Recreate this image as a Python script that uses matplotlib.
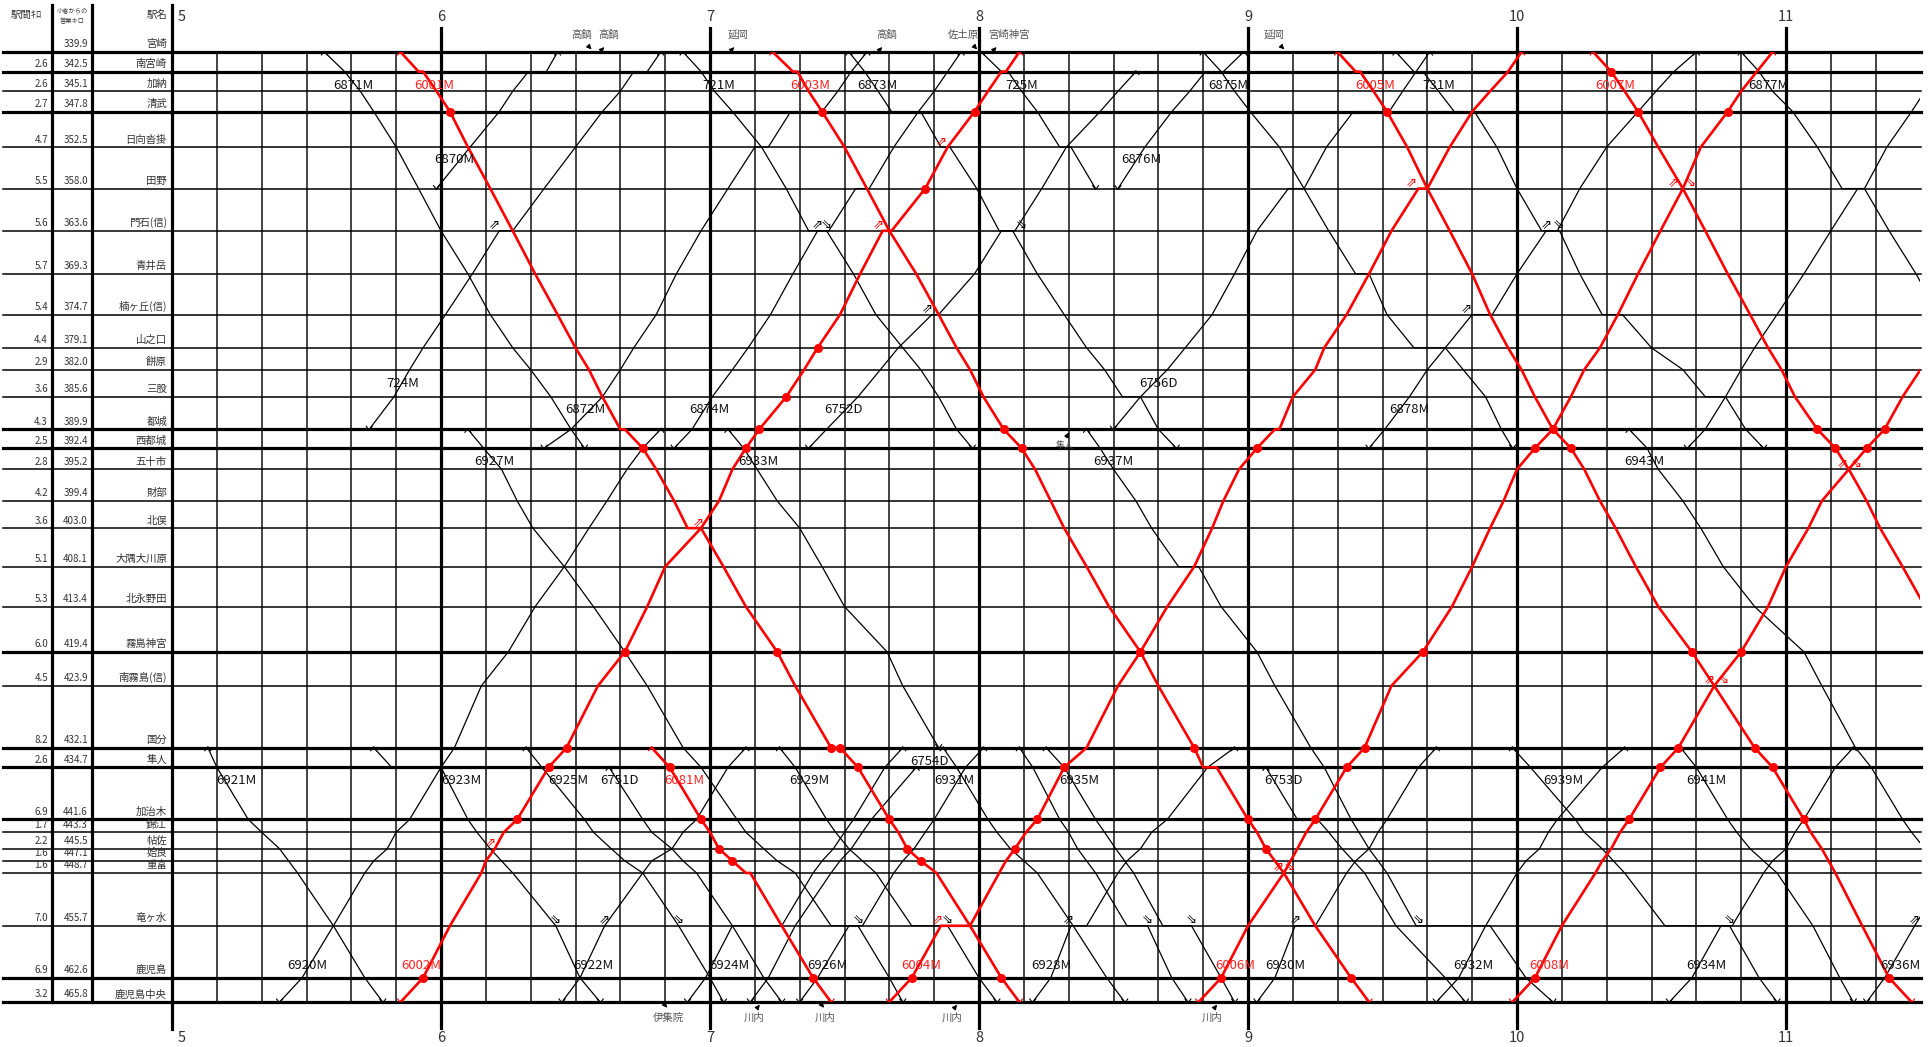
import matplotlib.pyplot as plt

plt.rcParams['font.family'] = ['Noto Sans CJK JP', 'DejaVu Sans']

# ---- stations, top (Miyazaki) to bottom (Kagoshima-Chuo)
station_labels = ['宮崎', '南宮崎', '加納', '清武', '日向沓掛', '田野', '門石(信)', '青井岳',
                  '楠ヶ丘(信)', '山之口', '餅原', '三股', '都城', '西都城', '五十市', '財部',
                  '北俣', '大隅大川原', '北永野田', '霧島神宮', '南霧島(信)', '国分', '隼人',
                  '加治木', '錦江', '帖佐', '姶良', '重富', '竜ヶ水', '鹿児島', '鹿児島中央']
station_keys = [s.replace('(信)', '') for s in station_labels]
cum_km = [339.9, 342.5, 345.1, 347.8, 352.5, 358.0, 363.6, 369.3, 374.7, 379.1, 382.0,
          385.6, 389.9, 392.4, 395.2, 399.4, 403.0, 408.1, 413.4, 419.4, 423.9, 432.1,
          434.7, 441.6, 443.3, 445.5, 447.1, 448.7, 455.7, 462.6, 465.8]
sect_km = ['', '2.6', '2.6', '2.7', '4.7', '5.5', '5.6', '5.7', '5.4', '4.4', '2.9', '3.6',
           '4.3', '2.5', '2.8', '4.2', '3.6', '5.1', '5.3', '6.0', '4.5', '8.2', '2.6', '6.9',
           '1.7', '2.2', '1.6', '1.6', '7.0', '6.9', '3.2']
bold_stations = ['宮崎', '南宮崎', '清武', '都城', '西都城', '霧島神宮', '国分', '隼人',
                 '加治木', '鹿児島', '鹿児島中央']
hours = [5, 6, 7, 8, 9, 10, 11]

# ---- limited express trains (red): (station, time) in running order
red_trains = {
    '6001M': [('宮崎', '5:51'), ('南宮崎', '5:55'), ('南宮崎', '5:56'), ('加納', '5:59'), ('清武', '6:02'),
              ('日向沓掛', '6:06'), ('田野', '6:11'), ('門石', '6:16'), ('青井岳', '6:21'), ('楠ヶ丘', '6:26'),
              ('山之口', '6:30'), ('餅原', '6:33'), ('三股', '6:36'), ('都城', '6:40'), ('都城', '6:41'),
              ('西都城', '6:45'), ('五十市', '6:48'), ('財部', '6:52'), ('北俣', '6:55'), ('北俣', '6:58'),
              ('大隅大川原', '7:03'), ('北永野田', '7:08'), ('霧島神宮', '7:15'), ('南霧島', '7:19'),
              ('国分', '7:27'), ('国分', '7:29'), ('隼人', '7:33'), ('加治木', '7:40'), ('錦江', '7:42'),
              ('帖佐', '7:44'), ('姶良', '7:47'), ('重富', '7:50.5'), ('竜ヶ水', '7:58'), ('鹿児島', '8:05'),
              ('鹿児島中央', '8:09')],
    '6003M': [('宮崎', '7:14'), ('南宮崎', '7:18.5'), ('南宮崎', '7:19.5'), ('加納', '7:22'), ('清武', '7:25'),
              ('日向沓掛', '7:30'), ('田野', '7:35'), ('門石', '7:40'), ('青井岳', '7:46'), ('楠ヶ丘', '7:51'),
              ('山之口', '7:55'), ('餅原', '7:58'), ('三股', '8:01'), ('都城', '8:05.5'), ('西都城', '8:09.5'),
              ('五十市', '8:12.5'), ('財部', '8:16'), ('北俣', '8:19'), ('大隅大川原', '8:24'),
              ('北永野田', '8:29'), ('霧島神宮', '8:36'), ('南霧島', '8:40'), ('国分', '8:48'),
              ('隼人', '8:50'), ('隼人', '8:53'), ('加治木', '9:00'), ('錦江', '9:02'), ('帖佐', '9:04'),
              ('姶良', '9:06'), ('重富', '9:08'), ('竜ヶ水', '9:15'), ('鹿児島', '9:23'), ('鹿児島中央', '9:27')],
    '6005M': [('宮崎', '9:20'), ('南宮崎', '9:24'), ('南宮崎', '9:25'), ('加納', '9:28'), ('清武', '9:31'),
              ('日向沓掛', '9:35.5'), ('田野', '9:40'), ('門石', '9:45'), ('青井岳', '9:50'), ('楠ヶ丘', '9:54'),
              ('山之口', '9:58'), ('餅原', '10:01'), ('三股', '10:04'), ('都城', '10:08'), ('西都城', '10:12'),
              ('五十市', '10:15'), ('財部', '10:18.5'), ('北俣', '10:22'), ('大隅大川原', '10:26.5'),
              ('北永野田', '10:31.5'), ('霧島神宮', '10:39'), ('南霧島', '10:44'), ('国分', '10:53'),
              ('隼人', '10:57'), ('加治木', '11:04'), ('錦江', '11:05.5'), ('帖佐', '11:08'), ('姶良', '11:09.5'),
              ('重富', '11:11'), ('竜ヶ水', '11:17'), ('鹿児島', '11:23'), ('鹿児島中央', '11:28')],
    '6007M': [('宮崎', '10:17'), ('南宮崎', '10:21'), ('加納', '10:24'), ('清武', '10:27'),
              ('日向沓掛', '10:31.5'), ('田野', '10:37'), ('門石', '10:42'), ('青井岳', '10:47'),
              ('楠ヶ丘', '10:52'), ('山之口', '10:56'), ('餅原', '10:59'), ('三股', '11:02'), ('都城', '11:07'),
              ('西都城', '11:11'), ('五十市', '11:14'), ('財部', '11:18'), ('北俣', '11:21'),
              ('大隅大川原', '11:26'), ('北永野田', '11:31')],
    '6081M': [('国分', '6:47'), ('隼人', '6:51'), ('加治木', '6:58'), ('錦江', '7:00'), ('帖佐', '7:02'),
              ('姶良', '7:05'), ('重富', '7:08'), ('重富', '7:09'), ('竜ヶ水', '7:16'), ('鹿児島', '7:23'),
              ('鹿児島中央', '7:27')],
    '6002M': [('鹿児島中央', '5:51'), ('鹿児島', '5:56'), ('竜ヶ水', '6:02'), ('重富', '6:09'), ('姶良', '6:10'),
              ('帖佐', '6:12'), ('錦江', '6:14'), ('加治木', '6:17'), ('隼人', '6:24'), ('国分', '6:28'),
              ('南霧島', '6:35'), ('霧島神宮', '6:41'), ('北永野田', '6:46'), ('大隅大川原', '6:50'),
              ('北俣', '6:58'), ('財部', '7:02'), ('五十市', '7:05'), ('西都城', '7:08'), ('都城', '7:11'),
              ('三股', '7:17'), ('餅原', '7:21'), ('山之口', '7:24'), ('楠ヶ丘', '7:29'), ('青井岳', '7:33.5'),
              ('門石', '7:38.5'), ('門石', '7:40.5'), ('田野', '7:48'), ('日向沓掛', '7:53'), ('清武', '7:59'),
              ('加納', '8:02'), ('南宮崎', '8:05'), ('南宮崎', '8:06'), ('宮崎', '8:09')],
    '6004M': [('鹿児島中央', '7:40'), ('鹿児島', '7:45'), ('竜ヶ水', '7:51.5'), ('竜ヶ水', '7:58'),
              ('重富', '8:04.5'), ('姶良', '8:06'), ('帖佐', '8:08'), ('錦江', '8:10.5'), ('加治木', '8:13'),
              ('隼人', '8:19'), ('国分', '8:24'), ('南霧島', '8:31'), ('霧島神宮', '8:36'), ('北永野田', '8:42'),
              ('大隅大川原', '8:48'), ('北俣', '8:52'), ('財部', '8:54.5'), ('五十市', '8:58'), ('西都城', '9:02'),
              ('都城', '9:06'), ('都城', '9:07'), ('三股', '9:10'), ('餅原', '9:15'), ('山之口', '9:17'),
              ('楠ヶ丘', '9:22'), ('青井岳', '9:27'), ('門石', '9:32'), ('田野', '9:38'), ('田野', '9:40'),
              ('日向沓掛', '9:45'), ('清武', '9:50'), ('加納', '9:54'), ('南宮崎', '9:58'), ('宮崎', '10:01')],
    '6006M': [('鹿児島中央', '8:49'), ('鹿児島', '8:54'), ('竜ヶ水', '9:00'), ('重富', '9:08'), ('姶良', '9:09.5'),
              ('帖佐', '9:11'), ('錦江', '9:13'), ('加治木', '9:15'), ('隼人', '9:22'), ('国分', '9:26'),
              ('南霧島', '9:32'), ('霧島神宮', '9:39'), ('北永野田', '9:45.5'), ('大隅大川原', '9:50'),
              ('北俣', '9:54'), ('財部', '9:57'), ('五十市', '10:00'), ('西都城', '10:04'), ('都城', '10:08'),
              ('三股', '10:12'), ('餅原', '10:15'), ('山之口', '10:18.5'), ('楠ヶ丘', '10:22.5'),
              ('青井岳', '10:27'), ('門石', '10:32'), ('田野', '10:37'), ('日向沓掛', '10:41'), ('清武', '10:47'),
              ('加納', '10:50'), ('南宮崎', '10:53.5'), ('宮崎', '10:57')],
    '6008M': [('鹿児島中央', '9:59'), ('鹿児島', '10:04'), ('竜ヶ水', '10:10'), ('重富', '10:17.5'),
              ('姶良', '10:19'), ('帖佐', '10:21'), ('錦江', '10:23'), ('加治木', '10:25'), ('隼人', '10:32'),
              ('国分', '10:36'), ('南霧島', '10:44'), ('霧島神宮', '10:50'), ('北永野田', '10:56'),
              ('大隅大川原', '11:00'), ('北俣', '11:05'), ('財部', '11:08'), ('五十市', '11:14'),
              ('西都城', '11:18'), ('都城', '11:22'), ('三股', '11:26'), ('餅原', '11:30'), ('山之口', '11:33')],
}
red_stops = {
    '6001M': ['清武', '西都城', '霧島神宮', '国分', '隼人', '加治木', '帖佐', '姶良', '鹿児島'],
    '6003M': ['清武', '都城', '西都城', '霧島神宮', '国分', '加治木', '帖佐', '鹿児島'],
    '6005M': ['清武', '西都城', '霧島神宮', '国分', '隼人', '加治木', '鹿児島'],
    '6007M': ['南宮崎', '清武', '都城', '西都城'],
    '6081M': ['隼人', '加治木', '帖佐', '姶良', '鹿児島'],
    '6002M': ['鹿児島', '加治木', '隼人', '国分', '霧島神宮', '西都城', '都城', '三股', '山之口', '田野', '清武'],
    '6004M': ['鹿児島', '帖佐', '加治木', '隼人', '霧島神宮', '西都城'],
    '6006M': ['鹿児島', '加治木', '隼人', '国分', '霧島神宮', '西都城', '都城', '清武'],
    '6008M': ['鹿児島', '加治木', '隼人', '国分', '霧島神宮', '西都城', '都城'],
}

# ---- local trains (black)
black_trains = {
    # Miyazaki - Miyakonojo
    '6871M': [('宮崎', '5:34'), ('南宮崎', '5:38.5'), ('加納', '5:42'), ('清武', '5:45'), ('日向沓掛', '5:50'),
              ('田野', '5:55'), ('門石', '6:00'), ('青井岳', '6:06'), ('楠ヶ丘', '6:11'), ('山之口', '6:16'),
              ('餅原', '6:20'), ('三股', '6:24.5'), ('都城', '6:29'), ('西都城', '6:32')],
    '6870M': [('田野', '5:59'), ('日向沓掛', '6:06.5'), ('清武', '6:13'), ('加納', '6:16'), ('南宮崎', '6:19.5'),
              ('南宮崎', '6:23.5'), ('宮崎', '6:26')],
    '724M': [('都城', '5:44'), ('三股', '5:49.5'), ('餅原', '5:53'), ('山之口', '5:56'), ('楠ヶ丘', '6:01'),
             ('青井岳', '6:07'), ('門石', '6:13'), ('門石', '6:16'), ('田野', '6:23'), ('日向沓掛', '6:30'),
             ('清武', '6:36'), ('加納', '6:40'), ('南宮崎', '6:43'), ('南宮崎', '6:46'), ('宮崎', '6:49')],
    '721M': [('宮崎', '6:54'), ('南宮崎', '6:58'), ('加納', '7:01'), ('清武', '7:05'), ('日向沓掛', '7:11.5'),
             ('田野', '7:17'), ('門石', '7:22'), ('門石', '7:26'), ('青井岳', '7:32'), ('楠ヶ丘', '7:37'),
             ('山之口', '7:43'), ('餅原', '7:47'), ('三股', '7:51'), ('都城', '7:55'), ('西都城', '7:58.5')],
    '6872M': [('西都城', '6:23'), ('都城', '6:29'), ('三股', '6:36'), ('餅原', '6:40'), ('山之口', '6:43'),
              ('楠ヶ丘', '6:48'), ('青井岳', '6:52.5'), ('門石', '6:58'), ('田野', '7:04'), ('日向沓掛', '7:10'),
              ('日向沓掛', '7:13'), ('清武', '7:18'), ('清武', '7:25'), ('加納', '7:28.5'), ('南宮崎', '7:31.5'),
              ('宮崎', '7:35')],
    '6874M': [('西都城', '6:52'), ('都城', '6:56'), ('三股', '7:00.5'), ('餅原', '7:05'), ('山之口', '7:08.5'),
              ('楠ヶ丘', '7:13.5'), ('青井岳', '7:18.5'), ('門石', '7:24'), ('門石', '7:26.5'), ('田野', '7:32.5'),
              ('田野', '7:35.5'), ('日向沓掛', '7:41'), ('清武', '7:46.5'), ('加納', '7:50'), ('南宮崎', '7:53'),
              ('宮崎', '7:56')],
    '6873M': [('宮崎', '7:31'), ('南宮崎', '7:34.5'), ('加納', '7:37.5'), ('清武', '7:40.5'), ('清武', '7:47'),
              ('日向沓掛', '7:51.5'), ('日向沓掛', '7:53.5'), ('田野', '7:59.5'), ('門石', '8:04.5'),
              ('門石', '8:07.5'), ('青井岳', '8:13'), ('楠ヶ丘', '8:19'), ('山之口', '8:24'), ('餅原', '8:28'),
              ('三股', '8:32'), ('三股', '8:36'), ('都城', '8:40'), ('西都城', '8:44')],
    '6752D': [('西都城', '7:22'), ('都城', '7:26'), ('三股', '7:33'), ('餅原', '7:38'), ('山之口', '7:42'),
              ('楠ヶ丘', '7:49.5'), ('楠ヶ丘', '7:51'), ('青井岳', '7:59'), ('門石', '8:05'), ('門石', '8:08'),
              ('田野', '8:14'), ('日向沓掛', '8:19.5'), ('清武', '8:27'), ('加納', '8:31'), ('南宮崎', '8:35')],
    '725M': [('宮崎', '8:00.5'), ('南宮崎', '8:05'), ('南宮崎', '8:06.5'), ('加納', '8:09.5'), ('清武', '8:13'),
             ('日向沓掛', '8:18'), ('日向沓掛', '8:20.5'), ('田野', '8:26')],
    '6876M': [('田野', '8:31'), ('日向沓掛', '8:37'), ('清武', '8:43'), ('加納', '8:47'), ('南宮崎', '8:50.5'),
              ('南宮崎', '8:54.5'), ('宮崎', '8:59')],
    '6875M': [('宮崎', '8:50'), ('南宮崎', '8:54'), ('加納', '8:57'), ('清武', '9:00.5'), ('日向沓掛', '9:07'),
              ('田野', '9:12.5'), ('門石', '9:18'), ('青井岳', '9:24'), ('青井岳', '9:27'), ('楠ヶ丘', '9:31'),
              ('山之口', '9:37'), ('山之口', '9:44'), ('餅原', '9:48'), ('三股', '9:53'), ('都城', '9:56.5'),
              ('西都城', '9:59')],
    '6756D': [('都城', '8:30'), ('三股', '8:36'), ('餅原', '8:42'), ('山之口', '8:46'), ('楠ヶ丘', '8:52'),
              ('青井岳', '8:57'), ('門石', '9:02'), ('田野', '9:09'), ('田野', '9:12.5'), ('日向沓掛', '9:17.5'),
              ('清武', '9:23.5'), ('清武', '9:31.5'), ('加納', '9:34.5'), ('南宮崎', '9:37.5'), ('宮崎', '9:40.5')],
    '731M': [('宮崎', '9:33'), ('南宮崎', '9:37'), ('南宮崎', '9:39'), ('加納', '9:42.5'), ('清武', '9:46'),
             ('清武', '9:50.5'), ('日向沓掛', '9:55.5'), ('田野', '10:00'), ('門石', '10:05.5'), ('門石', '10:09.5'),
             ('青井岳', '10:14'), ('楠ヶ丘', '10:19'), ('楠ヶ丘', '10:23.5'), ('山之口', '10:30'), ('餅原', '10:37'),
             ('三股', '10:42'), ('三股', '10:46.5'), ('都城', '10:51'), ('西都城', '10:55')],
    '6878M': [('西都城', '9:27'), ('都城', '9:30.5'), ('三股', '9:36'), ('餅原', '9:40'), ('山之口', '9:44'),
              ('楠ヶ丘', '9:50'), ('楠ヶ丘', '9:54.5'), ('青井岳', '10:00'), ('門石', '10:06.5'), ('門石', '10:09'),
              ('田野', '10:14'), ('日向沓掛', '10:20'), ('清武', '10:27'), ('加納', '10:31'), ('南宮崎', '10:35'),
              ('宮崎', '10:40')],
    '6877M': [('宮崎', '10:50'), ('南宮崎', '10:54'), ('加納', '10:57'), ('清武', '11:01.5'), ('日向沓掛', '11:07'),
              ('田野', '11:12.5'), ('田野', '11:17.5'), ('門石', '11:23'), ('青井岳', '11:29'), ('楠ヶ丘', '11:34')],
    'up_1038': [('西都城', '10:38'), ('都城', '10:42'), ('三股', '10:46.5'), ('餅原', '10:50'), ('山之口', '10:53'),
                ('楠ヶ丘', '10:58'), ('青井岳', '11:04'), ('門石', '11:10'), ('田野', '11:16'), ('田野', '11:17.5'),
                ('日向沓掛', '11:22.5'), ('清武', '11:28'), ('加納', '11:31')],
    # Miyakonojo - Kokubu / Kagoshima-Chuo
    '6927M': [('都城', '6:06'), ('西都城', '6:09.5'), ('五十市', '6:13.5'), ('財部', '6:17'), ('北俣', '6:20.5'),
              ('大隅大川原', '6:27.5'), ('北永野田', '6:34'), ('霧島神宮', '6:41'), ('南霧島', '6:46'), ('国分', '6:54'),
              ('隼人', '6:58'), ('加治木', '7:06'), ('錦江', '7:08'), ('帖佐', '7:12'), ('姶良', '7:15'),
              ('重富', '7:19'), ('竜ヶ水', '7:27'), ('竜ヶ水', '7:33'), ('鹿児島', '7:40'), ('鹿児島中央', '7:43')],
    '6920M': [('鹿児島中央', '5:24'), ('鹿児島', '5:29'), ('竜ヶ水', '5:36'), ('重富', '5:43'), ('姶良', '5:45'),
              ('帖佐', '5:48'), ('錦江', '5:50'), ('加治木', '5:53'), ('隼人', '6:00'), ('国分', '6:03'),
              ('南霧島', '6:09'), ('霧島神宮', '6:15'), ('北永野田', '6:21'), ('大隅大川原', '6:27.5'),
              ('北俣', '6:33'), ('財部', '6:37'), ('五十市', '6:41.5'), ('西都城', '6:45'), ('都城', '6:49')],
    '6933M': [('都城', '7:04'), ('西都城', '7:07.5'), ('五十市', '7:10.5'), ('財部', '7:15'), ('北俣', '7:20'),
              ('大隅大川原', '7:25'), ('北永野田', '7:30'), ('霧島神宮', '7:39.5'), ('南霧島', '7:43'), ('国分', '7:51')],
    '6937M': [('都城', '8:24'), ('西都城', '8:27'), ('五十市', '8:30'), ('財部', '8:35'), ('北俣', '8:38.5'),
              ('大隅大川原', '8:44.5'), ('大隅大川原', '8:49'), ('北永野田', '8:54'), ('霧島神宮', '9:02'),
              ('南霧島', '9:06'), ('国分', '9:14'), ('隼人', '9:17'), ('加治木', '9:23'), ('帖佐', '9:27'),
              ('姶良', '9:29'), ('重富', '9:31'), ('竜ヶ水', '9:37.5'), ('竜ヶ水', '9:54'), ('鹿児島', '10:02'),
              ('鹿児島中央', '10:08')],
    '6943M': [('都城', '10:25'), ('西都城', '10:29'), ('五十市', '10:31.5'), ('財部', '10:37'), ('北俣', '10:41'),
              ('大隅大川原', '10:46'), ('北永野田', '10:53'), ('霧島神宮', '11:04'), ('南霧島', '11:08'),
              ('国分', '11:15.5'), ('隼人', '11:19'), ('加治木', '11:26'), ('錦江', '11:28'), ('帖佐', '11:31')],
    # Kokubu / Hayato - Kagoshima-Chuo
    '6921M': [('国分', '5:08'), ('隼人', '5:10'), ('加治木', '5:17'), ('錦江', '5:20'), ('帖佐', '5:24'),
              ('姶良', '5:26'), ('重富', '5:28'), ('竜ヶ水', '5:36'), ('鹿児島', '5:43'), ('鹿児島中央', '5:47')],
    '6923M': [('国分', '5:45'), ('隼人', '5:49'), ('隼人', '6:00'), ('加治木', '6:06'), ('錦江', '6:08'),
              ('帖佐', '6:11'), ('姶良', '6:13.5'), ('重富', '6:16'), ('竜ヶ水', '6:25.6'), ('鹿児島', '6:31'),
              ('鹿児島中央', '6:35.5')],
    '6925M': [('国分', '6:19'), ('隼人', '6:22.5'), ('加治木', '6:32'), ('錦江', '6:34'), ('帖佐', '6:38'),
              ('姶良', '6:41'), ('重富', '6:45'), ('竜ヶ水', '6:53'), ('鹿児島', '7:00'), ('鹿児島中央', '7:03')],
    '6751D': [('隼人', '6:37.5'), ('加治木', '6:45'), ('錦江', '6:47'), ('帖佐', '6:51.5'), ('姶良', '6:54'),
              ('重富', '6:57'), ('竜ヶ水', '7:05'), ('鹿児島', '7:12'), ('鹿児島中央', '7:16')],
    '6929M': [('国分', '7:15.5'), ('隼人', '7:19'), ('加治木', '7:26'), ('錦江', '7:28'), ('帖佐', '7:31'),
              ('姶良', '7:34'), ('重富', '7:37'), ('竜ヶ水', '7:45'), ('竜ヶ水', '7:53'), ('鹿児島', '8:00'),
              ('鹿児島中央', '8:04')],
    '6931M': [('国分', '7:52'), ('隼人', '7:55'), ('加治木', '8:02'), ('錦江', '8:04'), ('帖佐', '8:07'),
              ('姶良', '8:10'), ('重富', '8:13'), ('竜ヶ水', '8:21'), ('鹿児島', '8:28.5'), ('鹿児島中央', '8:32.5')],
    'dn_0809': [('国分', '8:09'), ('隼人', '8:12'), ('加治木', '8:18'), ('錦江', '8:20'), ('帖佐', '8:22'),
                ('姶良', '8:24'), ('重富', '8:26'), ('竜ヶ水', '8:33'), ('竜ヶ水', '8:37.6'), ('鹿児島', '8:43'),
                ('鹿児島中央', '8:46.6')],
    '6935M': [('国分', '8:15'), ('隼人', '8:19'), ('加治木', '8:26'), ('錦江', '8:28'), ('帖佐', '8:30.5'),
              ('姶良', '8:32.5'), ('重富', '8:34.5'), ('竜ヶ水', '8:41'), ('竜ヶ水', '8:47.4'), ('鹿児島', '8:54'),
              ('鹿児島中央', '8:57')],
    '6753D': [('隼人', '9:04'), ('加治木', '9:11'), ('加治木', '9:15.5'), ('錦江', '9:18'), ('帖佐', '9:21'),
              ('姶良', '9:23.5'), ('重富', '9:26'), ('竜ヶ水', '9:33'), ('鹿児島', '9:44'), ('鹿児島中央', '9:48.5')],
    '6939M': [('国分', '9:59'), ('隼人', '10:03'), ('加治木', '10:13'), ('錦江', '10:15'), ('帖佐', '10:19'),
              ('姶良', '10:21.5'), ('重富', '10:24'), ('竜ヶ水', '10:33'), ('竜ヶ水', '10:47.4'), ('鹿児島', '10:54'),
              ('鹿児島中央', '10:58')],
    '6941M': [('国分', '10:36.5'), ('隼人', '10:40'), ('加治木', '10:47'), ('錦江', '10:49'), ('帖佐', '10:52'),
              ('姶良', '10:55'), ('重富', '10:58'), ('竜ヶ水', '11:06'), ('鹿児島', '11:12'), ('鹿児島中央', '11:15')],
    '6922M': [('鹿児島中央', '6:27'), ('鹿児島', '6:31'), ('竜ヶ水', '6:36.5'), ('重富', '6:45'), ('姶良', '6:47'),
              ('帖佐', '6:51.5'), ('錦江', '6:54'), ('加治木', '6:57'), ('隼人', '7:04'), ('国分', '7:08')],
    '6924M': [('鹿児島中央', '6:55'), ('鹿児島', '6:59'), ('竜ヶ水', '7:05'), ('竜ヶ水', '7:16'), ('重富', '7:23'),
              ('姶良', '7:25'), ('帖佐', '7:27.5'), ('錦江', '7:30'), ('加治木', '7:32'), ('隼人', '7:39'),
              ('国分', '7:43')],
    '6754D': [('鹿児島中央', '7:09'), ('鹿児島', '7:13'), ('竜ヶ水', '7:19'), ('重富', '7:27'), ('姶良', '7:29'),
              ('帖佐', '7:31.5'), ('錦江', '7:34'), ('加治木', '7:36'), ('隼人', '7:46')],
    '6926M': [('鹿児島中央', '7:20'), ('鹿児島', '7:24'), ('竜ヶ水', '7:31'), ('竜ヶ水', '7:34'), ('重富', '7:41'),
              ('姶良', '7:43'), ('帖佐', '7:45.5'), ('錦江', '7:48'), ('加治木', '7:50'), ('隼人', '7:57'),
              ('国分', '8:01')],
    '6928M': [('鹿児島中央', '8:12'), ('鹿児島', '8:16'), ('竜ヶ水', '8:20.5'), ('竜ヶ水', '8:24'), ('重富', '8:31'),
              ('姶良', '8:33'), ('帖佐', '8:36'), ('錦江', '8:38.5'), ('加治木', '8:42'), ('隼人', '8:51'),
              ('国分', '8:57')],
    '6930M': [('鹿児島中央', '9:02'), ('鹿児島', '9:06'), ('竜ヶ水', '9:10.5'), ('竜ヶ水', '9:15'), ('重富', '9:22'),
              ('姶良', '9:24'), ('帖佐', '9:27'), ('錦江', '9:29'), ('加治木', '9:31'), ('隼人', '9:38'),
              ('国分', '9:42')],
    '6932M': [('鹿児島中央', '9:42'), ('鹿児島', '9:47'), ('竜ヶ水', '9:53'), ('重富', '10:00'), ('姶良', '10:02'),
              ('帖佐', '10:05'), ('錦江', '10:07'), ('加治木', '10:09'), ('隼人', '10:19'), ('国分', '10:24')],
    '6934M': [('鹿児島中央', '10:34'), ('鹿児島', '10:39'), ('竜ヶ水', '10:45.5'), ('竜ヶ水', '10:48'),
              ('重富', '10:55'), ('姶良', '10:57'), ('帖佐', '11:00'), ('錦江', '11:02'), ('加治木', '11:04'),
              ('隼人', '11:11'), ('国分', '11:15')],
    '6936M': [('鹿児島中央', '11:18'), ('鹿児島', '11:22'), ('竜ヶ水', '11:28.7'), ('重富', '11:36')],
}

# ---- train number labels: (km, time)
label_spots = {
    '6871M': (344.3, '5:40.5'), '6001M': (344.3, '5:58.5'), '721M': (344.3, '7:02'),
    '6003M': (344.3, '7:22.3'), '6873M': (344.3, '7:37.3'), '725M': (344.3, '8:09.5'),
    '6875M': (344.3, '8:55.6'), '6005M': (344.3, '9:28.3'), '731M': (344.3, '9:42.5'),
    '6007M': (344.3, '10:22'), '6877M': (344.3, '10:56'),
    '6870M': (354.2, '6:03'), '6876M': (354.2, '8:36.3'),
    '724M': (383.8, '5:51.4'), '6756D': (383.8, '8:40'),
    '6872M': (387.3, '6:32.3'), '6874M': (387.3, '6:59.8'), '6752D': (387.3, '7:29.8'),
    '6878M': (387.3, '9:36'),
    '6927M': (394.2, '6:12'), '6933M': (394.2, '7:10.9'), '6937M': (394.2, '8:30'),
    '6943M': (394.2, '10:28.4'),
    '6754D': (433.9, '7:48.9'),
    '6921M': (436.5, '5:14.3'), '6923M': (436.5, '6:04.6'), '6925M': (436.5, '6:28.3'),
    '6751D': (436.5, '6:39.8'), '6081M': (436.5, '6:54.3'), '6929M': (436.5, '7:22.1'),
    '6931M': (436.5, '7:54.4'), '6935M': (436.5, '8:22.4'), '6753D': (436.5, '9:08'),
    '6939M': (436.5, '10:10.3'), '6941M': (436.5, '10:42.3'),
    '6920M': (461.0, '5:30.2'), '6002M': (461.0, '5:55.5'), '6922M': (461.0, '6:34'),
    '6924M': (461.0, '7:04.3'), '6926M': (461.0, '7:26.2'), '6004M': (461.0, '7:47.2'),
    '6928M': (461.0, '8:16.2'), '6006M': (461.0, '8:57.1'), '6930M': (461.0, '9:08.4'),
    '6932M': (461.0, '9:50.2'), '6008M': (461.0, '10:07.2'), '6934M': (461.0, '10:42.3'),
    '6936M': (461.0, '11:25.6'),
}
red_labels = ['6001M', '6003M', '6005M', '6007M', '6081M', '6002M', '6004M', '6006M', '6008M']

# passing marks at stations: (station, time, direction, colour key)
pass_marks = [('門石', '6:12', 'up', 'k'), ('門石', '7:24', 'up', 'k'), ('門石', '7:26', 'dn', 'k'),
              ('門石', '7:37.5', 'up', 'r'), ('日向沓掛', '7:51.7', 'up', 'r'), ('門石', '8:09.5', 'dn', 'k'),
              ('田野', '9:36.5', 'up', 'r'), ('楠ヶ丘', '7:48.5', 'up', 'k'), ('楠ヶ丘', '9:48.7', 'up', 'k'),
              ('門石', '10:06.5', 'up', 'k'), ('門石', '10:09.3', 'dn', 'k'), ('田野', '10:34.8', 'up', 'r'),
              ('田野', '10:38.7', 'dn', 'r'), ('五十市', '11:12.6', 'up', 'r'), ('五十市', '11:15.7', 'dn', 'r'),
              ('北俣', '6:57.5', 'up', 'r'), ('帖佐', '6:10.9', 'up', 'r'), ('竜ヶ水', '6:25.6', 'dn', 'k'),
              ('竜ヶ水', '6:36.5', 'up', 'k'), ('竜ヶ水', '6:53', 'dn', 'k'), ('竜ヶ水', '7:33', 'dn', 'k'),
              ('竜ヶ水', '7:50.6', 'up', 'r'), ('竜ヶ水', '7:53', 'dn', 'k'), ('竜ヶ水', '8:20', 'up', 'k'),
              ('竜ヶ水', '8:37.6', 'dn', 'k'), ('竜ヶ水', '8:47.4', 'dn', 'k'), ('竜ヶ水', '9:10.5', 'up', 'k'),
              ('重富', '9:06.7', 'up', 'r'), ('重富', '9:09.2', 'dn', 'r'), ('竜ヶ水', '9:38', 'dn', 'k'),
              ('竜ヶ水', '10:47.4', 'dn', 'k'), ('竜ヶ水', '11:28.7', 'up', 'k'), ('南霧島', '10:43', 'up', 'r'),
              ('南霧島', '10:46', 'dn', 'r')]

# through-running notes: (text, time where the arrow meets the line, 'in' = from outside)
top_notes = [('高鍋', '6:34', 'in'), ('高鍋', '6:35.5', 'out'), ('延岡', '7:04.5', 'out'),
             ('高鍋', '7:37.5', 'out'), ('佐土原', '8:00', 'in'), ('宮崎神宮', '8:03', 'out'),
             ('延岡', '9:08.5', 'in')]
bottom_notes = [('伊集院', '6:49.5', 'out'), ('川内', '7:11.5', 'in'), ('川内', '7:24.5', 'out'),
                ('川内', '7:55.5', 'in'), ('川内', '8:53.5', 'in')]
mid_notes = [('隼人', '8:20.3')]


def tm(s):
    h, m = s.split(':')
    return int(h) + float(m) / 60.0


km_of = dict(zip(station_keys, cum_km))

W, H = 1931, 1047
fig = plt.figure(figsize=(W / 100, H / 100), dpi=100)
x0, x1 = 172, 1920.5          # pixel extent of 5:00 .. 11:30
y0, y1 = 52, 1002             # pixel extent of Miyazaki .. Kagoshima-Chuo
ax = fig.add_axes([x0 / W, 1 - y1 / H, (x1 - x0) / W, (y1 - y0) / H])
tab = fig.add_axes([0, 1 - y1 / H, x0 / W, (y1 - y0) / H], sharey=ax)
ax.set_xlim(5, 11.5)
ax.set_ylim(cum_km[-1], cum_km[0])
tab.set_xlim(0, x0)
for a in (ax, tab):
    a.axis('off')

kpp = (cum_km[-1] - cum_km[0]) / (y1 - y0)   # km per pixel
hpp = 6.5 / (x1 - x0)                          # hour per pixel

# ---- grid
for i in range(1, 40):
    t = 5 + i / 6.0
    if i % 6 == 0:
        ax.plot([t, t], [cum_km[0] - 24 * kpp, cum_km[-1] + 26 * kpp], color='black', lw=2.3,
                clip_on=False, zorder=2)
    else:
        ax.plot([t, t], [cum_km[0], cum_km[-1]], color='#111111', lw=1.1, zorder=1)
ax.plot([5, 5], [cum_km[0] - 47 * kpp, cum_km[-1] + 27 * kpp], color='black', lw=2.3,
        clip_on=False, zorder=2)
for s, k in zip(station_keys, cum_km):
    lw = 2.3 if s in bold_stations else 1.1
    ax.plot([5, 11.5], [k, k], color='black', lw=lw, zorder=2, clip_on=False)
    tab.plot([3, x0], [k, k], color='black', lw=lw, clip_on=False)
for h in hours:
    hx = h + 6 * hpp if h == 5 else h
    ha = 'left' if h == 5 else 'center'
    ax.text(hx, cum_km[0] - 35 * kpp, str(h), ha=ha, va='center', fontsize=10.5, color='#333333')
    ax.text(hx, cum_km[-1] + 36 * kpp, str(h), ha=ha, va='center', fontsize=10.5, color='#333333')

# ---- table
for xx in (52, 92):
    tab.plot([xx, xx], [cum_km[0] - 47 * kpp, cum_km[-1]], color='black', lw=2.3, clip_on=False)
tab.text(26, cum_km[0] - 37 * kpp, '駅間ｷﾛ', ha='center', va='center', fontsize=7.5, color='#333333')
tab.text(72, cum_km[0] - 42 * kpp, '小倉からの', ha='center', va='center', fontsize=4.5, color='#333333')
tab.text(72, cum_km[0] - 31 * kpp, '営業キロ', ha='center', va='center', fontsize=4.5, color='#333333')
tab.text(167, cum_km[0] - 37 * kpp, '駅名', ha='right', va='center', fontsize=7.5, color='#333333')
for lab, k, d in zip(station_labels, cum_km, sect_km):
    yy = k - 2.5 * kpp
    tab.text(48, yy, d, ha='right', va='bottom', fontsize=7, color='#333333')
    tab.text(88, yy, '%.1f' % k, ha='right', va='bottom', fontsize=7, color='#333333')
    tab.text(167, yy, lab, ha='right', va='bottom', fontsize=7.5, color='#333333')


# ---- trains
def draw_train(path, color, lw):
    xs = [tm(t) for s, t in path]
    ys = [km_of[s] for s, t in path]
    ax.plot(xs, ys, color=color, lw=lw, zorder=4, solid_joinstyle='miter')
    for xe, ye, dy in ((xs[0], ys[0], ys[1] - ys[0]), (xs[-1], ys[-1], ys[-2] - ys[-1])):
        if xe <= 11.5:
            sg = 1 if dy > 0 else -1
            ax.plot([xe - 3 * hpp, xe, xe + 3 * hpp], [ye + sg * 3 * kpp, ye - sg * 1 * kpp, ye + sg * 3 * kpp],
                    color=color, lw=0.8, zorder=4)


for name, path in black_trains.items():
    draw_train(path, 'black', 0.9)
for name, path in red_trains.items():
    draw_train(path, '#ff0000', 1.9)
    for s, t in path:
        if s in red_stops[name]:
            ax.plot(tm(t), km_of[s], 'o', color='#ff0000', ms=5.5, zorder=5)

for name, (k, t) in label_spots.items():
    col = '#ff2020' if name in red_labels else '#111111'
    ax.text(tm(t), k, name, ha='center', va='center', fontsize=9.5, color=col, zorder=6)

for s, t, d, c in pass_marks:
    glyph = '⇗' if d == 'up' else '⇘'
    ax.text(tm(t), km_of[s] - 6 * kpp, glyph, ha='center', va='center', fontsize=9.5,
            color='#ff0000' if c == 'r' else 'black', zorder=6)

# ---- through-running notes
arrow_kw = dict(arrowstyle='-|>', lw=0.8, color='black', mutation_scale=7)
for txt, t, d in top_notes:
    x = tm(t)
    if d == 'in':
        tx = x - (len(txt) * 0.9 + 0.8) / 60
        ax.annotate('', xy=(x, cum_km[0] - 0.5 * kpp), xytext=(x - 6 * hpp, cum_km[0] - 7 * kpp),
                    arrowprops=arrow_kw, annotation_clip=False)
    else:
        tx = x + (len(txt) * 0.9) / 60
        ax.annotate('', xy=(x + 6 * hpp, cum_km[0] - 7 * kpp), xytext=(x, cum_km[0] - 0.5 * kpp),
                    arrowprops=arrow_kw, annotation_clip=False)
    ax.text(tx, cum_km[0] - 17 * kpp, txt, ha='center', va='center', fontsize=7.5,
            color='#555555', clip_on=False)
for txt, t, d in bottom_notes:
    x = tm(t)
    if d == 'out':
        ax.annotate('', xy=(x + 6 * hpp, cum_km[-1] + 8 * kpp), xytext=(x, cum_km[-1] + 0.5 * kpp),
                    arrowprops=arrow_kw, annotation_clip=False)
        tx = x + 1.2 / 60
    else:
        ax.annotate('', xy=(x, cum_km[-1] + 0.5 * kpp), xytext=(x - 6 * hpp, cum_km[-1] + 8 * kpp),
                    arrowprops=arrow_kw, annotation_clip=False)
        tx = x - 1.6 / 60
    ax.text(tx, cum_km[-1] + 16 * kpp, txt, ha='center', va='center', fontsize=7.5,
            color='#555555', clip_on=False)
for txt, t in mid_notes:
    x = tm(t)
    ax.annotate('', xy=(x, km_of['都城'] + 0.5 * kpp), xytext=(x - 5 * hpp, km_of['西都城'] - 8 * kpp),
                arrowprops=arrow_kw)
    ax.text(x - 1.1 / 60, km_of['西都城'] - 3 * kpp, txt, ha='center', va='center', fontsize=6.5,
            color='#555555', zorder=6)

fig.savefig('out.png', dpi=100, facecolor='white')
